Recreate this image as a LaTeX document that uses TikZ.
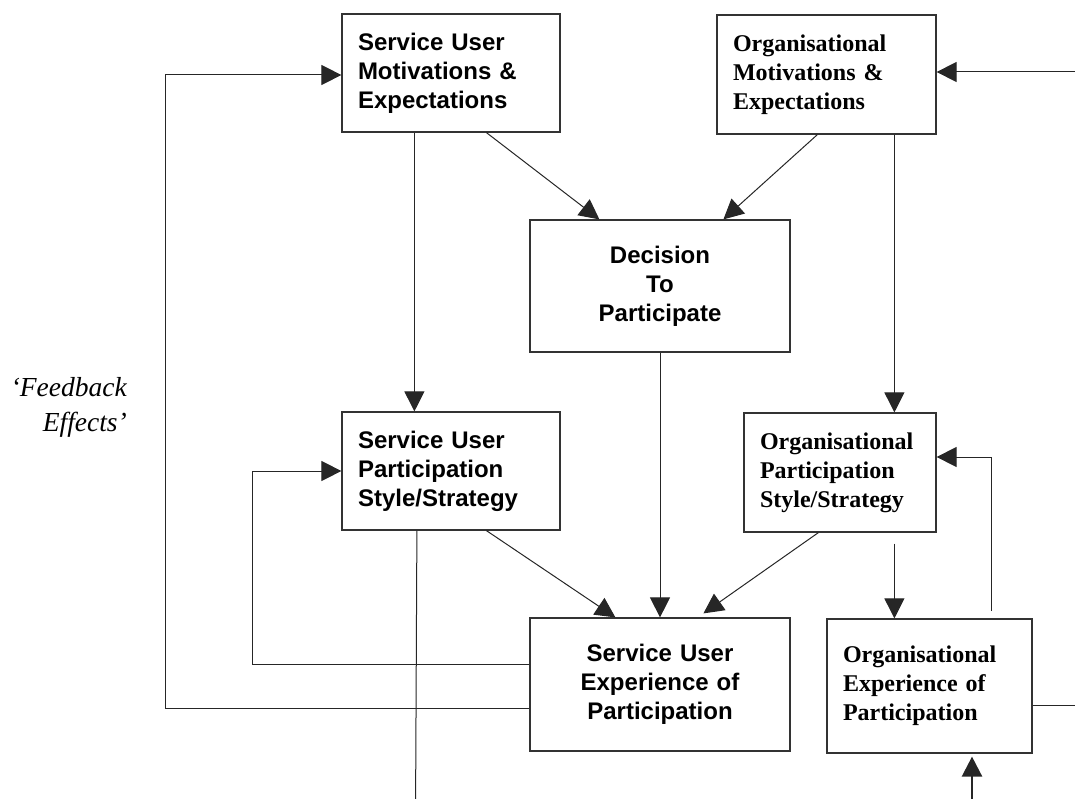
\documentclass[tikz,border=0pt]{standalone}
\usepackage{fontspec}
\setmainfont{Liberation Serif}
\newfontfamily\arialfont{Liberation Sans}
\usetikzlibrary{arrows.meta,positioning}

\begin{document}
\begin{tikzpicture}[x=1pt,y=-1pt,
		box/.style={draw=black!80, line width=1.2pt, rectangle, inner xsep=16pt, inner ysep=0pt},
		subox/.style={box, font=\arialfont\bfseries\fontsize{24}{29}\selectfont},
		orgbox/.style={box, font=\bfseries\fontsize{24}{29}\selectfont},
		con/.style={draw=black!85, line width=1pt},
		arr/.style={con, -{Triangle[length=20pt,width=20pt]}}]
		\useasboundingbox (0,0) rectangle (1075,799);
		% boxes
		\draw (451,73) node [subox, text width=186pt, minimum height=118pt, align=left] (sume) {Service User\\Motivations \&\\Expectations};
		\draw (826.5,74.5) node [orgbox, text width=187pt, minimum height=119pt, align=left] (ome) {Organisational\\Motivations \&\\Expectations};
		\draw (660,286) node [subox, text width=228pt, minimum height=132pt, align=center] (dtp) {Decision\\To\\Participate};
		\draw (451,471) node [subox, text width=186pt, minimum height=118pt, align=left] (sups) {Service User\\Participation\\Style/Strategy};
		\draw (840,472.5) node [orgbox, text width=160pt, minimum height=119pt, align=left] (ops) {Organisational\\Participation\\Style/Strategy};
		\draw (660,684.5) node [subox, text width=228pt, minimum height=133pt, align=center] (suep) {Service User\\Experience of\\Participation};
		\draw (929.5,686) node [orgbox, text width=173pt, minimum height=134pt, align=left] (oep) {Organisational\\Experience of\\Participation};
		\draw (127,377) node [anchor=north east, align=right, inner sep=0pt, font=\itshape\fontsize{27.5}{35}\selectfont] (fbtext) {‘Feedback\\Effects’};
		% corner points
		\coordinate (fbo1) at (165,708);
		\coordinate (fbo2) at (165,75);
		\coordinate (fbi1) at (252,664);
		\coordinate (fbi2) at (252,471);
		\coordinate (fbr0) at (991,611);
		\coordinate (fbr1) at (991,457);
		\coordinate (inR) at (1075,72);
		\coordinate (outE) at (1075,705);
		\coordinate (outS) at (415.6,799);
		\coordinate (inB) at (972,799);
		% straight arrows
		\path
		([xshift=73pt]sume.south west) edge[arr] ([xshift=73pt]sups.north west)
		([xshift=145pt]sume.south west) edge[arr] ([xshift=70pt]dtp.north west)
		([xshift=101pt]ome.south west) edge[arr] ([xshift=194pt]dtp.north west)
		([xshift=178pt]ome.south west) edge[arr] ([xshift=151pt]ops.north west)
		(inR) edge[arr] (inR -| ome.east)
		([xshift=145pt]sups.south west) edge[arr] ([xshift=86pt]suep.north west)
		(dtp) edge[arr] (suep)
		([xshift=75pt]ops.south west) edge[arr] ([xshift=174pt,yshift=4pt]suep.north west)
		([xshift=151pt,yshift=-11pt]ops.south west) edge[arr] ([xshift=68pt]oep.north west);
		% feedback loops
		\draw[arr] (fbo1 -| suep.west) -- (fbo1) -- (fbo2) -- (fbo2 -| sume.west);
		\draw[arr] (fbi1 -| suep.west) -- (fbi1) -- (fbi2) -- (fbi2 -| sups.west);
		\draw[arr] (fbr0) -- (fbr1) -- (fbr1 -| ops.east);
		% lines leaving the picture
		\draw[con] ([xshift=75.5pt]sups.south west) -- (outS);
		\draw[con] (outE -| oep.east) -- (outE);
		\draw[arr, line width=2.5pt, shorten >=3pt] (inB) -- (inB |- oep.south);
	\end{tikzpicture}
\end{document}
